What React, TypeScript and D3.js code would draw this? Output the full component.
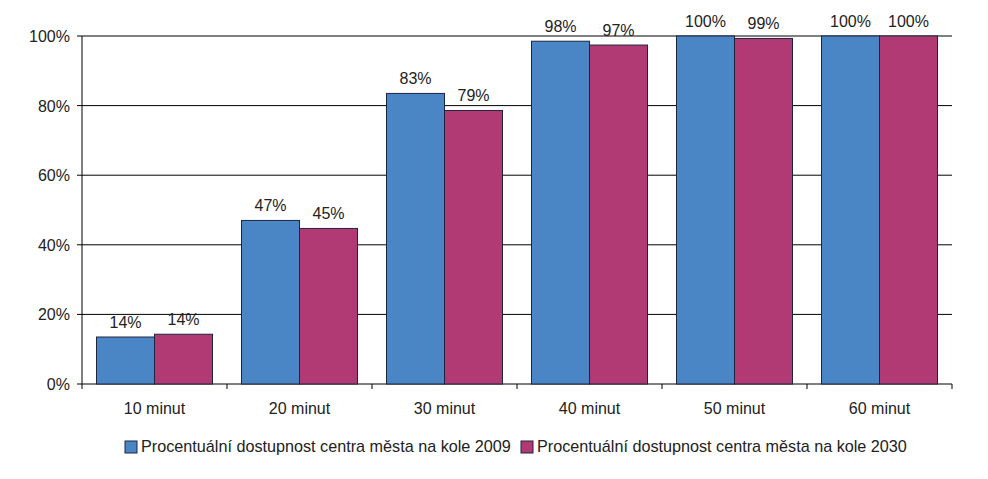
import React from "react";
import * as d3 from "d3";

const categories = ["10 minut", "20 minut", "30 minut", "40 minut", "50 minut", "60 minut"];
const series2009 = [13.5, 47, 83.5, 98.5, 100, 100];
const series2030 = [14.3, 44.7, 78.6, 97.4, 99.3, 100];
const labels2009 = ["14%", "47%", "83%", "98%", "100%", "100%"];
const labels2030 = ["14%", "45%", "79%", "97%", "99%", "100%"];
const seriesNames = [
  "Procentuální dostupnost centra města na kole 2009",
  "Procentuální dostupnost centra města na kole 2030",
];
const yTicks = [0, 20, 40, 60, 80, 100];

const W = 988;
const H = 479;
const margin = { left: 82, right: 36, top: 36, bottom: 95 };
const colors = ["#4a86c6", "#b23a74"];
const font = "'Liberation Sans', Arial, sans-serif";

export default function App() {
  const x = d3
    .scaleBand<string>()
    .domain(categories)
    .range([margin.left, W - margin.right])
    .paddingInner(0)
    .paddingOuter(0);
  const inner = d3.scaleBand<number>().domain([0, 1]).range([0, x.bandwidth() * 0.8]);
  const y = d3.scaleLinear().domain([0, 100]).range([H - margin.bottom, margin.top]);
  const series = [series2009, series2030];
  const labels = [labels2009, labels2030];
  const off = x.bandwidth() * 0.1;

  return (
    <svg width={W} height={H} style={{ position: "absolute", left: 0, top: 0, background: "#fff" }}>
      <rect x={0} y={0} width={W} height={H} fill="#fff" />
      {yTicks.map((t) => (
        <g key={t}>
          <line x1={margin.left - 5} x2={W - margin.right} y1={y(t)} y2={y(t)} stroke="#000" strokeWidth={1} />
          <text x={70} y={y(t) + 6} textAnchor="end" fontSize={16} fontFamily={font} fill="#222">
            {t}%
          </text>
        </g>
      ))}
      <line x1={margin.left} x2={margin.left} y1={y(100)} y2={y(0)} stroke="#000" />
      {categories.map((c, i) => (
        <g key={c}>
          <line
            x1={x(c)! + x.bandwidth()}
            x2={x(c)! + x.bandwidth()}
            y1={y(0)}
            y2={y(0) + 5}
            stroke="#000"
          />
          {i === 0 && <line x1={x(c)!} x2={x(c)!} y1={y(0)} y2={y(0) + 5} stroke="#000" />}
          <text
            x={x(c)! + x.bandwidth() / 2}
            y={y(0) + 30}
            textAnchor="middle"
            fontSize={16}
            fontFamily={font}
            fill="#222"
          >
            {c}
          </text>
        </g>
      ))}
      {categories.map((c, i) =>
        series.map((s, k) => (
          <g key={c + k}>
            <rect
              x={x(c)! + off + inner(k)!}
              y={y(s[i])}
              width={inner.bandwidth()}
              height={y(0) - y(s[i])}
              fill={colors[k]}
              stroke="#1c2540"
              strokeWidth={1}
            />
            <text
              x={x(c)! + off + inner(k)! + inner.bandwidth() / 2}
              y={y(s[i]) - 9}
              textAnchor="middle"
              fontSize={16}
              fontFamily={font}
              fill="#222"
            >
              {labels[k][i]}
            </text>
          </g>
        ))
      )}
      {seriesNames.map((n, k) => {
        const lx = k === 0 ? 125 : 521;
        return (
          <g key={n}>
            <rect x={lx} y={441} width={12} height={12} fill={colors[k]} stroke="#1c2540" strokeWidth={1} />
            <text x={lx + 16} y={452} fontSize={16.2} fontFamily={font} fill="#222">
              {n}
            </text>
          </g>
        );
      })}
    </svg>
  );
}
